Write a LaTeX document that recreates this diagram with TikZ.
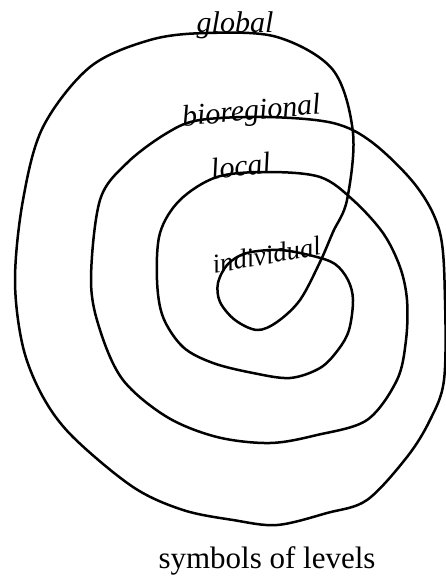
\documentclass[tikz,border=0pt]{standalone}
\usepackage{fontspec}
\setmainfont{Liberation Serif}
\begin{document}
\begin{tikzpicture}[x=1pt,y=-1pt,
  spiral/.style={line width=2.5pt, line join=round, line cap=round},
  hand/.style={font=\fontsize{30}{30}\selectfont\itshape, inner sep=0pt, anchor=base},
  caption/.style={font=\fontsize{31}{31}\selectfont, inner sep=0pt, anchor=base}]
\useasboundingbox (0,0) rectangle (446,580);
\draw[spiral] plot[smooth cycle, tension=0.55] coordinates {
 (333,232) (320,262) (300,300) (277,322) (257,330) (235,320) (220,302)
 (218,283) (228,264) (247,253) (280,250) (313,256) (335,264) (348,280)
 (353,300) (349,330) (338,350) (320,368) (290,378) (253,373) (213,363)
 (183,347) (163,317) (157,280) (160,233) (180,200) (217,177) (267,172)
 (320,177) (353,200) (383,233) (400,267) (407,300) (406,340) (397,380)
 (367,420) (317,435) (270,443) (217,437) (167,417) (123,380) (100,330)
 (91,280) (100,200) (127,163) (167,133) (200,120) (267,117) (333,123)
 (373,143) (417,187) (440,233) (445,300) (444,380) (430,420) (407,457)
 (367,500) (327,513) (277,525) (233,520) (183,510) (133,487) (73,437)
 (43,397) (23,347) (15,280) (23,200) (43,127) (90,67) (150,40) (207,33)
 (277,37) (333,70) (353,133) (347,200)};
\node[hand] (global) at (235,33) {global};
\node[hand, rotate=5] (bioregional) at (252,120) {bioregional};
\node[hand, rotate=7] (local) at (242,176) {local};
\node[hand, rotate=10, font=\fontsize{27}{27}\selectfont\itshape] (individual) at (268,264) {individual};
\node[caption] (cap) at (267,568) {symbols of levels};
\end{tikzpicture}
\end{document}
